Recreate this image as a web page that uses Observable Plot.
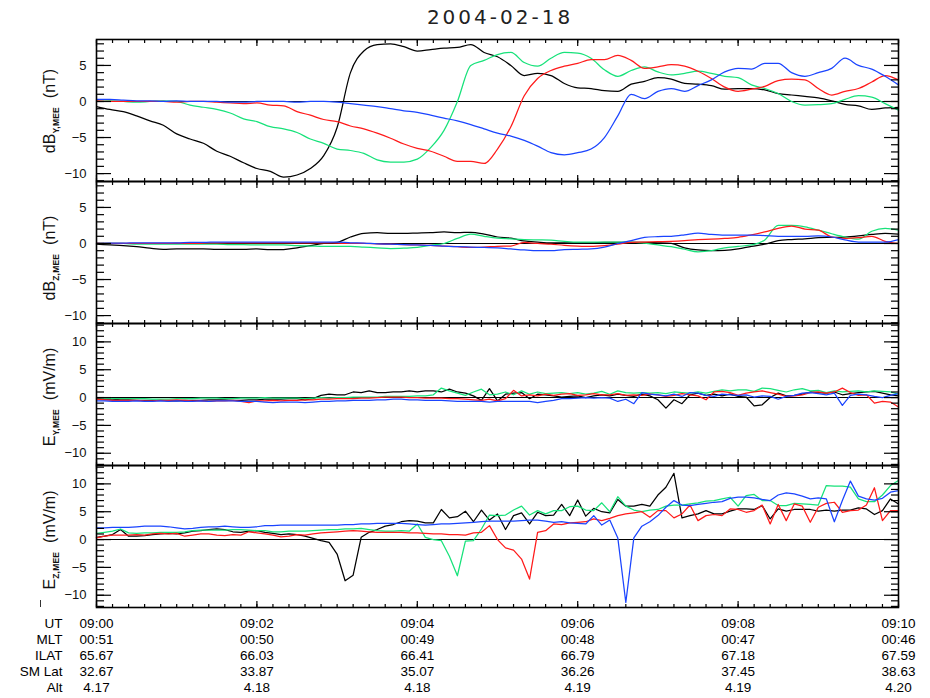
<!DOCTYPE html>
<html>
<head>
<meta charset="utf-8">
<script src="https://cdn.jsdelivr.net/npm/d3@7"></script>
<script src="https://cdn.jsdelivr.net/npm/@observablehq/plot@0.6"></script>
<style>
  html, body { margin: 0; padding: 0; background: #fff; }
  #root { position: relative; width: 930px; height: 698px; overflow: hidden; font-family: "Liberation Sans", Arial, sans-serif; color: #000; background: #fff; }
  .panel { position: absolute; left: 0; }
  .panel svg { overflow: visible; background: transparent; display: block; }
  #title { position: absolute; left: 500px; top: 5px; transform: translateX(-50%); font-family: "DejaVu Sans", sans-serif; font-size: 20px; letter-spacing: 3px; color: #222; white-space: nowrap; }
  .ylab { position: absolute; white-space: nowrap; font-size: 16px; line-height: 18px; color: #111; transform: translate(-50%, -50%) rotate(-90deg); }
  .ylab sub { font-size: 8.5px; font-weight: bold; vertical-align: -4px; letter-spacing: 0.2px; }
  #stray { position: absolute; left: 40px; top: 600px; width: 1.2px; height: 7px; background: #333; }
</style>
</head>
<body>
<div id="root">
  <div id="title">2004-02-18</div>
  <div class="ylab" style="left:53px; top:111px;">dB<sub>Y,MEE</sub>&nbsp;&nbsp;(nT)</div>
  <div class="ylab" style="left:53px; top:258px;">dB<sub>Z,MEE</sub>&nbsp;&nbsp;(nT)</div>
  <div class="ylab" style="left:53px; top:397px;">E<sub>Y,MEE</sub>&nbsp;&nbsp;(mV/m)</div>
  <div class="ylab" style="left:53px; top:540px;">E<sub>Z,MEE</sub>&nbsp;&nbsp;(mV/m)</div>
  <div id="stray"></div>
</div>
<script>
// ---------- DATA ----------
// time in seconds after 09:00 UT
const tB = d3.range(0, 601, 10);   // magnetic field samples (10 s)
const tE = d3.range(0, 601, 6);    // electric field samples (6 s)

const seriesNames = ["black", "green", "red", "blue"];
const seriesColors = ["#000000", "#17e27a", "#ff1a1a", "#1a44ff"];

// dB_Y,MEE (nT)
const dBy_black = [-0.7,-1.1,-1.4,-2.0,-2.7,-3.3,-4.5,-5.2,-5.8,-6.9,
  -7.6,-8.5,-9.3,-9.7,-10.5,-10.2,-9.3,-7.5,-3.6,4.0,
  7.0,7.9,8.0,7.6,7.0,7.2,7.4,7.5,7.9,6.8,
  6.2,5.0,3.6,3.9,3.6,2.5,1.9,1.8,1.5,1.4,
  2.4,2.8,3.3,3.1,2.5,2.4,2.2,1.7,1.8,1.8,
  1.6,1.1,0.9,0.7,0.5,0.1,-0.4,-0.6,-1.1,-0.9,-0.8];
const dBy_green = [0,0.1,0,-0.1,0,0.1,0,-0.5,-0.8,-1.1,
  -1.6,-2.4,-2.8,-3.5,-3.8,-4.3,-5.2,-5.8,-6.6,-6.8,
  -7.2,-8.1,-8.4,-8.4,-8.0,-6.4,-4.0,0.0,5.0,5.7,
  6.5,6.8,5.4,4.9,6.0,6.8,6.7,6.0,4.4,3.5,
  4.3,4.8,4.1,3.7,3.9,4.2,3.9,3.5,3.3,2.3,
  1.8,1.1,0,-0.5,-0.45,-0.3,0.3,0.8,0.6,-0.3,-1.2];
const dBy_red = [0.1,0,0,0,0,0,-0.1,0,0,-0.1,
  -0.2,-0.3,-0.2,-0.5,-0.6,-1.4,-1.9,-2.5,-2.8,-3.4,
  -3.8,-4.4,-5.1,-5.9,-6.5,-6.9,-7.6,-8.3,-8.3,-8.6,
  -6.6,-3.5,0.8,3.2,4.3,4.9,5.3,5.8,5.8,6.4,
  5.7,4.6,4.8,5.1,4.9,4.2,3.2,2.0,1.4,1.7,
  2.1,2.9,3.1,3.0,1.8,0.9,1.4,1.8,2.7,3.6,3.0];
const dBy_blue = [0.3,0.3,0.2,0.1,0.1,0,0.1,0,0,0,
  -0.1,-0.1,0,0,0,-0.1,0,0,-0.1,-0.3,
  -0.5,-0.7,-1.0,-1.3,-1.5,-1.9,-2.3,-2.7,-3.2,-3.8,
  -4.4,-4.8,-5.4,-6.2,-7.1,-7.4,-7.1,-6.6,-5.0,-2.0,
  1.0,0.4,1.4,1.8,1.4,2.2,3.0,4.1,4.6,4.5,
  5.3,5.3,4.0,3.5,4.0,4.6,6.0,5.0,4.5,3.5,2.3];

// dB_Z,MEE (nT)
const dBz_black = [-0.1,-0.2,-0.3,-0.45,-0.65,-0.8,-0.75,-0.75,-0.75,-0.8,
  -0.8,-0.8,-0.75,-0.85,-0.85,-0.6,-0.3,0,0.15,0.9,
  1.4,1.5,1.4,1.4,1.45,1.5,1.6,1.5,1.55,1.3,
  0.9,0.75,0.35,0.2,0.1,0.1,0.1,0.1,0.15,0.15,
  0.15,0.15,0.1,0,-0.6,-0.9,-1.0,-0.95,-0.75,-0.4,
  -0.1,0.4,0.55,0.65,0.8,0.85,0.9,1.05,1.25,1.4,1.3];
const dBz_green = [0,0,0,-0.1,-0.1,-0.1,-0.1,-0.1,-0.1,-0.1,
  -0.15,-0.15,-0.2,-0.2,-0.2,-0.3,-0.35,-0.4,-0.4,-0.4,
  -0.5,-0.6,-0.7,-0.65,-0.55,-0.25,0,0.7,1.3,1.0,
  0.75,0.65,0.55,0.5,0.45,0.3,0.2,0.2,0.2,0.2,
  0.2,0.05,-0.2,-0.45,-0.8,-1.15,-1.0,-0.6,-0.4,-0.2,
  0.5,2.5,2.5,2.3,1.85,1.35,0.9,0.6,1.7,2.1,1.85];
const dBz_red = [0.05,0,0,0,0,0,0.05,0,0.05,0.1,
  0.1,0.1,0.1,0.1,0.1,0.1,0.1,0.1,0.05,0,
  0,-0.05,-0.1,-0.15,-0.2,-0.25,-0.35,-0.45,-0.55,-0.5,
  -0.4,-0.35,0.15,0,-0.1,-0.25,-0.35,-0.4,-0.3,-0.1,
  0.15,0.2,0.25,0.3,0.4,0.55,0.6,0.7,0.85,1.2,
  1.6,2.1,2.4,2.0,1.85,0.9,0.7,0.8,1.0,0.3,0];
const dBz_blue = [0,0.05,0.05,0.1,0.1,0.1,0.1,0.15,0.15,0.2,
  0.2,0.2,0.2,0.2,0.2,0.2,0.2,0.2,0.2,0.1,
  0.05,-0.05,-0.1,-0.15,-0.2,-0.25,-0.35,-0.45,-0.5,-0.55,
  -0.6,-0.75,-0.9,-1.0,-1.0,-0.85,-0.8,-0.75,-0.5,0,
  0.4,0.85,0.95,1.0,1.2,1.45,1.25,1.15,1.15,1.15,
  1.1,1.0,1.0,1.0,1.05,0.9,0.5,0.2,0.2,0.2,0.55];

// E_Y,MEE (mV/m)
const Ey_black = [-0.2,-0.3,-0.3,-0.4,-0.4,-0.5,-0.5,-0.5,-0.5,-0.6,
  -0.6,-0.5,-0.5,-0.5,-0.4,-0.4,-0.4,-0.5,-0.5,-0.4,
  -0.4,-0.3,-0.3,-0.3,-0.2,-0.2,-0.4,-0.2,0.4,0.6,
  0.5,0.5,1.0,0.9,1.2,0.9,0.9,1.0,1.0,1.2,
  1.0,1.2,1.2,1.0,1.5,1.0,0.8,0.3,-0.5,1.6,
  -0.6,0.6,0.8,0.9,-0.2,0.6,0.5,0.3,0.1,0.2,
  0.3,0.0,0.3,0.5,0.3,0.6,0.4,0.2,0.6,0.3,
  -0.4,-1.9,-0.4,-1.1,0.5,0.8,0.4,0.6,0.3,0.6,
  0.2,0.1,-1.5,-1.3,0.0,0.8,0.3,0.4,0.6,1.0,
  0.9,0.8,1.0,0.5,0.7,0.9,1.0,1.1,0.8,0.5,0.3];
const Ey_green = [0.0,-0.1,-0.2,-0.2,-0.2,-0.2,-0.2,-0.3,-0.3,-0.3,
  -0.2,-0.2,-0.2,-0.1,-0.1,-0.1,-0.2,-0.2,-0.1,-0.1,
  -0.1,0.0,-0.1,-0.1,-0.1,-0.1,-0.2,-0.1,0.0,-0.1,
  0.0,0.0,0.1,0.1,0.1,0.1,0.2,0.2,0.2,0.2,
  0.3,0.3,0.5,1.7,1.2,0.8,0.4,1.0,1.5,0.5,
  0.6,1.0,0.5,1.2,0.6,1.0,0.7,0.8,0.9,0.7,
  0.9,0.6,0.8,1.1,0.6,1.2,0.9,0.8,0.9,0.8,
  0.9,0.7,1.0,0.9,0.8,1.0,0.8,1.1,1.4,1.2,
  1.4,1.4,1.1,1.7,1.6,1.3,1.0,1.4,1.6,1.2,
  1.3,0.9,1.2,1.0,1.1,1.2,1.0,1.2,1.1,1.0,0.6];
const Ey_red = [-0.3,-0.4,-0.5,-0.5,-0.5,-0.5,-0.6,-0.6,-0.5,-0.5,
  -0.4,-0.5,-0.6,-0.6,-0.7,-0.6,-0.6,-0.5,-0.7,-0.9,
  -0.6,-0.6,-0.5,-0.6,-0.5,-0.5,-0.4,-0.4,-0.3,-0.3,
  -0.2,-0.2,-0.2,-0.1,-0.1,0.0,0.1,0.1,0.1,0.0,
  0.0,-0.1,-0.1,-0.1,-0.2,-0.2,-0.3,-0.4,-0.5,-0.3,
  -0.6,-0.2,1.3,0.3,0.5,0.3,0.6,0.4,0.6,0.7,
  0.4,0.5,0.7,0.5,0.5,0.7,0.4,0.5,0.4,0.6,
  0.5,0.2,0.4,0.7,0.5,0.3,-0.4,1.0,1.1,0.9,
  0.4,0.8,1.0,1.2,0.9,0.6,0.2,0.3,0.5,0.9,
  1.0,0.8,1.0,1.7,0.9,0.4,0.5,-1.0,-0.7,-0.8,-1.7];
const Ey_blue = [-0.6,-0.6,-0.7,-0.7,-0.7,-0.6,-0.7,-0.7,-0.6,-0.7,
  -0.6,-0.7,-0.7,-0.6,-0.7,-0.6,-0.6,-0.6,-0.7,-0.7,
  -0.7,-0.8,-0.9,-0.8,-0.8,-0.8,-0.9,-0.8,-0.7,-0.7,
  -0.6,-0.6,-0.5,-0.5,-0.5,-0.4,-0.4,-0.3,-0.3,-0.4,
  -0.4,-0.5,-0.5,-0.5,-0.6,-0.7,-0.7,-0.7,-0.7,-0.8,
  -0.7,-0.7,-0.7,-0.7,-0.7,-0.9,-0.7,-0.5,-0.2,-0.2,
  -0.1,0.0,-0.1,0.0,-0.1,-0.7,-0.3,-1.1,0.9,0.6,
  0.5,0.3,0.6,0.2,0.9,0.8,0.4,0.2,0.6,0.5,
  0.4,0.5,0.1,0.3,0.2,-0.3,0.2,0.4,0.8,0.9,
  0.7,0.5,0.8,-1.4,0.4,0.6,0.5,0.2,0.0,0.4,0.7];

// E_Z,MEE (mV/m)
const Ez_black = [0.4,0.6,0.9,1.8,0.6,0.6,0.7,0.9,1.0,1.1,
  1.0,1.2,1.5,1.6,1.8,1.9,1.8,1.4,1.3,1.5,
  1.6,1.3,1.1,0.9,1.0,0.9,0.6,0.2,-0.2,-0.5,
  -2.6,-7.4,-6.4,0.4,1.3,1.8,2.4,2.7,3.2,3.4,
  3.3,3.0,3.0,5.4,3.9,4.1,5.1,3.2,5.3,3.5,
  4.6,1.8,4.3,4.8,2.8,4.9,4.3,4.4,6.3,4.3,
  7.1,4.2,5.6,5.0,4.8,7.2,6.0,6.0,6.3,6.0,
  8.0,9.4,11.9,3.9,4.3,4.6,5.2,4.6,4.6,5.1,
  5.5,5.5,5.4,6.1,3.7,5.5,5.1,5.4,5.4,5.4,
  5.1,5.3,5.1,5.3,5.3,5.7,5.5,4.5,5.2,7.3,6.4];
const Ez_green = [1.1,1.3,1.5,1.9,1.2,1.1,1.2,1.2,1.3,1.3,
  1.3,1.4,1.6,1.7,1.7,1.7,1.7,1.8,1.8,1.7,
  1.6,1.6,1.4,1.4,1.5,1.5,1.5,1.6,1.7,1.8,
  1.8,1.9,1.9,2.0,1.8,1.6,1.5,1.5,1.6,1.5,
  2.8,0.4,0.0,-0.2,-3.0,-6.5,-0.3,-0.2,1.9,4.4,
  4.3,4.4,5.3,6.0,4.4,5.2,4.6,5.2,5.2,5.9,
  6.0,5.3,5.2,6.6,5.0,7.7,6.0,5.3,5.0,5.3,
  5.4,6.0,6.2,6.2,6.4,6.6,6.9,7.0,7.3,7.6,
  6.0,7.9,8.1,7.0,7.0,6.1,6.1,6.5,6.4,6.3,
  6.2,9.7,9.6,9.6,9.4,7.3,6.8,6.8,8.0,9.7,10.6];
const Ez_red = [0.3,0.6,0.8,0.8,0.8,0.9,0.8,1.0,1.1,1.0,
  1.1,0.6,0.8,1.0,1.0,0.8,0.7,0.9,0.8,1.4,
  1.2,1.0,0.8,0.5,0.6,0.9,0.8,1.0,1.2,1.3,
  1.4,1.5,1.6,1.5,1.4,1.3,1.3,1.3,1.3,1.2,
  1.2,1.1,1.0,1.0,0.9,0.9,0.8,1.2,1.3,2.5,
  0.0,-1.5,-1.9,-3.5,-7.1,1.3,1.6,2.8,2.7,3.0,
  3.1,3.2,3.7,3.4,3.8,4.3,4.6,4.8,5.0,4.0,
  5.2,5.2,3.9,4.6,6.2,3.4,4.3,4.5,4.3,5.5,
  5.4,4.9,5.2,6.2,2.8,6.3,3.4,6.4,6.0,3.1,
  5.8,6.5,6.7,4.9,5.2,5.3,6.2,9.3,3.4,5.2,5.2];
const Ez_blue = [2.1,2.1,2.2,2.2,2.2,2.3,2.4,2.4,2.4,2.3,
  2.1,1.9,2.0,2.2,2.3,2.3,2.4,2.3,2.2,2.2,
  2.3,2.5,2.5,2.6,2.6,2.6,2.6,2.6,2.6,2.6,
  2.6,2.7,2.7,2.8,2.8,2.9,2.9,2.9,2.9,2.8,
  2.7,2.6,2.7,2.8,2.8,2.9,3.0,3.1,3.2,3.3,
  3.3,3.3,3.3,3.4,3.5,3.5,3.3,3.1,3.2,3.0,
  2.9,2.8,4.3,2.6,3.5,0.3,-11.3,0.3,2.4,3.2,
  4.3,5.8,7.0,6.2,6.1,6.3,6.5,6.7,6.8,7.4,
  7.6,7.6,7.5,7.2,7.0,8.0,8.4,8.2,7.8,7.3,
  7.5,7.3,3.2,7.0,10.5,7.8,7.3,7.1,7.4,8.5,8.8];

// axis ticks
const xMajor = [0, 120, 240, 360, 480, 600];
const xMinor = d3.range(0, 601, 12);
const dbMajor = [-10, -5, 0, 5];
const dbMinor = d3.range(-11, 9, 1);
const eMajor = [-10, -5, 0, 5, 10];
const eMinor = d3.range(-12, 14, 1);

// ephemeris table
const rowNames = ["UT", "MLT", "ILAT", "SM Lat", "Alt"];
const UT = ["09:00", "09:02", "09:04", "09:06", "09:08", "09:10"];
const MLT = ["00:51", "00:50", "00:49", "00:48", "00:47", "00:46"];
const ILAT = ["65.67", "66.03", "66.41", "66.79", "67.18", "67.59"];
const SMLat = ["32.67", "33.87", "35.07", "36.26", "37.45", "38.63"];
const Alt = ["4.17", "4.18", "4.18", "4.19", "4.19", "4.20"];

// ---------- DRAW ----------
const root = document.getElementById("root");
const FONT = "Liberation Sans, Arial, sans-serif";

function panel(top, domain, major, minor, t, arrays, curve) {
  const lineMarks = arrays.map((vals, i) =>
    Plot.line(t.map((tt, j) => ({t: tt, v: vals[j]})),
      {x: "t", y: "v", stroke: seriesColors[i], strokeWidth: 1.25, curve}));
  const svg = Plot.plot({
    width: 930, height: 142,
    marginLeft: 96, marginRight: 32, marginTop: 0, marginBottom: 0,
    x: {domain: [0, 600]},
    y: {domain},
    style: {background: "transparent", overflow: "visible", fontFamily: FONT},
    marks: [
      Plot.ruleY([0], {stroke: "#000", strokeWidth: 1.1}),
      ...lineMarks,
      Plot.axisY(minor, {anchor: "left", tickSize: 8, dx: 8, fill: "none", label: null, strokeWidth: 1.2}),
      Plot.axisY(major, {anchor: "left", tickSize: 15, dx: 15, fill: "none", label: null, strokeWidth: 1.2}),
      Plot.axisY(minor, {anchor: "right", tickSize: 8, dx: -8, fill: "none", label: null, strokeWidth: 1.2}),
      Plot.axisY(major, {anchor: "right", tickSize: 15, dx: -15, fill: "none", label: null, strokeWidth: 1.2}),
      Plot.axisY(major, {anchor: "left", tickSize: 0, tickPadding: 10, fontSize: 13, fill: "#111", label: null}),
      Plot.axisX(xMinor, {anchor: "bottom", tickSize: 3, dy: -3, fill: "none", label: null, strokeWidth: 1.2}),
      Plot.axisX(xMajor, {anchor: "bottom", tickSize: 6, dy: -6, fill: "none", label: null, strokeWidth: 1.2}),
      Plot.axisX(xMinor, {anchor: "top", tickSize: 3, dy: 3, fill: "none", label: null, strokeWidth: 1.2}),
      Plot.axisX(xMajor, {anchor: "top", tickSize: 6, dy: 6, fill: "none", label: null, strokeWidth: 1.2}),
      Plot.frame({stroke: "#000", strokeWidth: 1.6})
    ]
  });
  const wrap = document.createElement("div");
  wrap.className = "panel";
  wrap.style.top = top + "px";
  wrap.appendChild(svg);
  root.appendChild(wrap);
}

panel(39, [-11.1, 8.6], dbMajor, dbMinor, tB, [dBy_black, dBy_green, dBy_red, dBy_blue], "monotone-x");
panel(181, [-11.1, 8.6], dbMajor, dbMinor, tB, [dBz_black, dBz_green, dBz_red, dBz_blue], "monotone-x");
panel(323, [-12.2, 13.3], eMajor, eMinor, tE, [Ey_black, Ey_green, Ey_red, Ey_blue], "linear");
panel(465, [-12.2, 13.3], eMajor, eMinor, tE, [Ez_black, Ez_green, Ez_red, Ez_blue], "linear");

// ephemeris table below the panels, positioned on the same time scale
const tableRows = [UT, MLT, ILAT, SMLat, Alt];
const cells = [];
tableRows.forEach((vals, r) => vals.forEach((v, c) => cells.push({t: xMajor[c], row: rowNames[r], text: v})));
const table = Plot.plot({
  width: 930, height: 90,
  marginLeft: 96, marginRight: 32, marginTop: 0, marginBottom: 0,
  x: {domain: [0, 600], axis: null},
  y: {type: "point", domain: rowNames, range: [11, 78], padding: 0, axis: null},
  style: {background: "transparent", overflow: "visible", fontFamily: FONT},
  marks: [
    Plot.text(cells, {x: "t", y: "row", text: "text", fontSize: 13.5, fill: "#000"}),
    Plot.text(rowNames, {y: d => d, text: d => d, frameAnchor: "left", textAnchor: "end", dx: -34, fontSize: 13.5, fill: "#000"})
  ]
});
const tw = document.createElement("div");
tw.className = "panel";
tw.style.top = "610px";
tw.appendChild(table);
root.appendChild(tw);
</script>
</body>
</html>
